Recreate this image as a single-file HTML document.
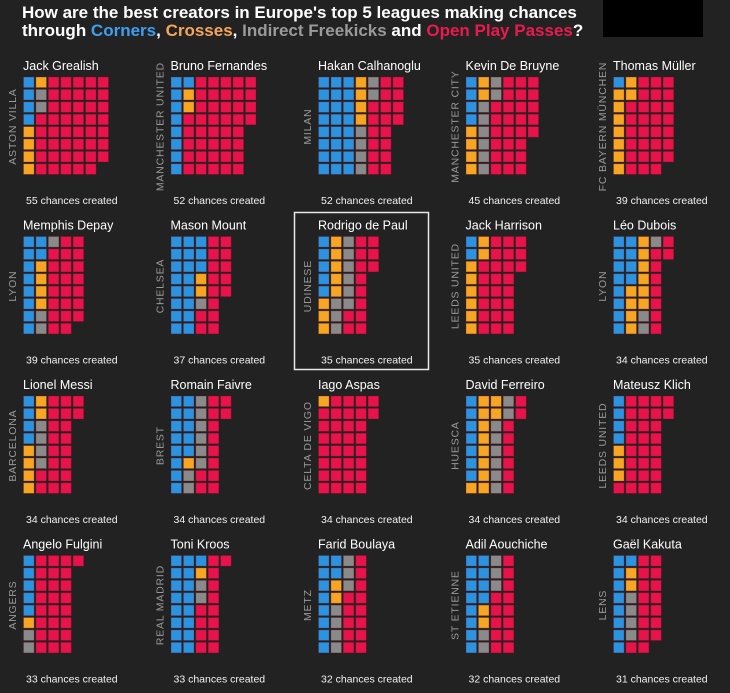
<!DOCTYPE html>
<html><head><meta charset="utf-8">
<style>
body{margin:0;background:#222;width:730px;height:693px;overflow:hidden;font-family:"Liberation Sans",sans-serif;}
#title{position:absolute;left:22px;top:4px;color:#fff;font-weight:bold;font-size:17px;line-height:18px;white-space:nowrap;}
</style></head><body>
<div id="title">How are the best creators in Europe's top 5 leagues making chances<br>through <span style="color:#3d9ff0">Corners</span>, <span style="color:#f5a55a">Crosses</span>, <span style="color:#9a9a9a">Indirect Freekicks</span> and <span style="color:#ea1a4e">Open Play Passes</span>?</div>
<div style="position:absolute;left:603px;top:0;width:100px;height:37px;background:#000"></div>
<svg id="chart" width="730" height="693" style="position:absolute;left:0;top:0"></svg>
<script>
const players=["Jack Grealish","Bruno Fernandes","Hakan Calhanoglu","Kevin De Bruyne","Thomas Müller","Memphis Depay","Mason Mount","Rodrigo de Paul","Jack Harrison","Léo Dubois","Lionel Messi","Romain Faivre","Iago Aspas","David Ferreiro","Mateusz Klich","Angelo Fulgini","Toni Kroos","Farid Boulaya","Adil Aouchiche","Gaël Kakuta"];
const teams=["ASTON VILLA","MANCHESTER UNITED","MILAN","MANCHESTER CITY","FC BAYERN MÜNCHEN","LYON","CHELSEA","UDINESE","LEEDS UNITED","LYON","BARCELONA","BREST","CELTA DE VIGO","HUESCA","LEEDS UNITED","ANGERS","REAL MADRID","METZ","ST ETIENNE","LENS"];
const corners=[4,9,24,4,1,10,19,5,2,12,4,13,0,7,4,5,17,10,12,9];
const crosses=[5,2,4,6,9,4,2,8,8,10,6,1,1,11,3,1,1,2,2,2];
const freekicks=[2,0,6,8,0,3,1,9,0,3,4,8,0,8,0,2,2,7,5,4];
const openPlay=[44,41,18,27,29,22,15,13,25,9,20,12,33,8,27,25,13,13,13,16];
const colors=["#2b93df","#f6a623","#8a8a8a","#e8134a"];
const NS="http://www.w3.org/2000/svg";
const svg=document.getElementById('chart');
const colX=i=>23+(i%5)*147.5, rowY=i=>Math.floor(i/5)*159.5;
const pitch=12.4, cell=10.6, rows=8;
function mk(tag,attrs,parent){const e=document.createElementNS(NS,tag);for(const k in attrs)e.setAttribute(k,attrs[k]);parent.appendChild(e);return e;}
players.forEach((p,i)=>{
  const g=mk('g',{},svg);
  
  
  const x0=colX(i), y0=rowY(i);
  const name=mk('text',{x:x0,y:y0+70,fill:'#fff','font-size':12.5},g);
  name.textContent=p;
  
  
  const vals=[corners[i],crosses[i],freekicks[i],openPlay[i]];
  const total=vals.reduce((a,b)=>a+b,0);
  let k=0;
  vals.forEach((v,c)=>{for(let j=0;j<v;j++){
    const col=Math.floor(k/rows), r=k%rows;
    const rc=mk('rect',{x:x0+col*pitch+0.5,y:y0+77+r*pitch,width:cell,height:cell,fill:colors[c],stroke:'#6a1020','stroke-opacity':0.35,'stroke-width':0.8},g);
    
    
    k++;}});
  const cy=y0+77+rows*pitch/2;
  const tm=mk('text',{x:x0-10,y:cy,fill:'#999','font-size':10.5,'letter-spacing':0.8,'text-anchor':'middle','dominant-baseline':'central',transform:`rotate(-90 ${x0-10} ${cy})`},g);
  tm.textContent=teams[i];
  
  
  const ct=mk('text',{x:x0+3,y:y0+204,fill:'#f2f2f2','font-size':10.5},g);
  ct.textContent=total+" chances created";
  
  
});
const hb=mk('rect',{x:294.5,y:212.5,width:134,height:157,fill:'none',stroke:'#e8e8e8','stroke-width':1.5},svg);


</script>
</body></html>
